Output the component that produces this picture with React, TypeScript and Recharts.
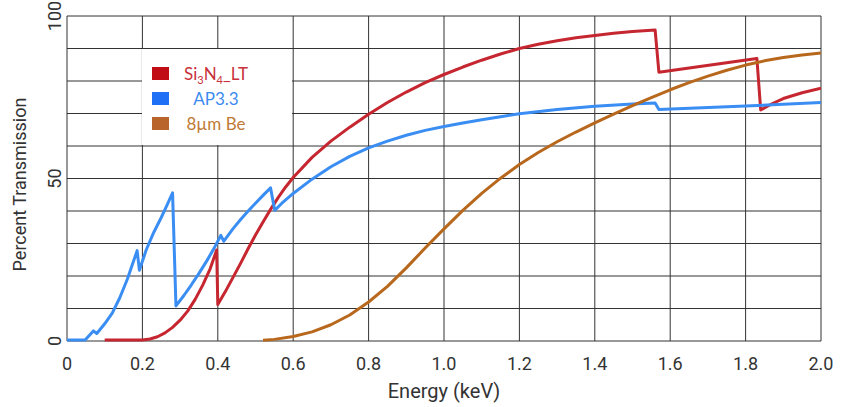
import React from "react";
import { CartesianGrid, Line, LineChart, XAxis, YAxis } from "recharts";

// energy (keV), percent transmission
const si3n4: [number, number][] = [
  [0.1, 0.3], [0.2, 0.3], [0.22, 0.6], [0.24, 1.3], [0.26, 2.5], [0.28, 4.2],
  [0.3, 6.4], [0.32, 9.2], [0.34, 12.8], [0.36, 17.2], [0.38, 22.3], [0.397, 28.0],
  [0.4, 11.2], [0.42, 15.2], [0.44, 19.5], [0.46, 23.8], [0.48, 28.3], [0.5, 32.6],
  [0.52, 36.6], [0.54, 40.5], [0.56, 44.1], [0.58, 47.4], [0.6, 50.3], [0.65, 56.5],
  [0.7, 61.5], [0.75, 65.8], [0.8, 69.8], [0.85, 73.4], [0.9, 76.6], [0.95, 79.5],
  [1.0, 82.0], [1.05, 84.3], [1.1, 86.4], [1.15, 88.3], [1.2, 90.0], [1.25, 91.3],
  [1.3, 92.4], [1.35, 93.3], [1.4, 94.0], [1.45, 94.7], [1.5, 95.2], [1.56, 95.7],
  [1.57, 82.7], [1.83, 86.9], [1.84, 71.1], [1.87, 73.0], [1.9, 74.6], [1.95, 76.4],
  [2.0, 77.8],
];

const ap33: [number, number][] = [
  [0, 0.3], [0.048, 0.3], [0.07, 3.1], [0.079, 2.3], [0.1, 5.3], [0.12, 8.6],
  [0.14, 13.3], [0.16, 19.0], [0.186, 27.8], [0.192, 21.8], [0.21, 28.0], [0.23, 33.4],
  [0.25, 38.0], [0.265, 41.7], [0.28, 45.6], [0.289, 10.8], [0.31, 14.0], [0.33, 17.3],
  [0.35, 20.8], [0.37, 24.5], [0.39, 28.5], [0.408, 32.5], [0.416, 30.7], [0.44, 34.5],
  [0.46, 37.3], [0.48, 39.9], [0.5, 42.4], [0.52, 44.8], [0.54, 47.1], [0.551, 40.2],
  [0.57, 42.4], [0.6, 45.4], [0.65, 49.8], [0.7, 53.6], [0.75, 56.8], [0.8, 59.4],
  [0.85, 61.5], [0.9, 63.3], [0.95, 64.8], [1.0, 66.0], [1.05, 67.1], [1.1, 68.1],
  [1.15, 69.0], [1.2, 69.9], [1.3, 71.2], [1.4, 72.2], [1.5, 72.9], [1.56, 73.2],
  [1.57, 71.2], [1.8, 72.3], [2.0, 73.4],
];

const be8: [number, number][] = [
  [0.52, 0.2], [0.55, 0.5], [0.6, 1.4], [0.65, 2.8], [0.7, 5.0], [0.75, 8.0],
  [0.8, 12.0], [0.85, 16.8], [0.9, 22.5], [0.95, 28.6], [1.0, 34.5], [1.05, 40.2],
  [1.1, 45.4], [1.15, 50.1], [1.2, 54.3], [1.25, 58.0], [1.3, 61.3], [1.35, 64.3],
  [1.4, 67.1], [1.45, 69.8], [1.5, 72.4], [1.55, 74.9], [1.6, 77.3], [1.65, 79.5],
  [1.7, 81.5], [1.75, 83.3], [1.8, 84.9], [1.85, 86.2], [1.9, 87.2], [1.95, 88.0],
  [2.0, 88.6],
];

const xTicks = [0, 0.2, 0.4, 0.6, 0.8, 1.0, 1.2, 1.4, 1.6, 1.8, 2.0];
const yTicks = [0, 50, 100];
const yGrid = [0, 10, 20, 30, 40, 50, 60, 70, 80, 90, 100];

const series = [
  { key: "si3n4", name: "Si3N4_LT", points: si3n4, line: "#c5262f", swatch: "#c00d16", text: "#c9303a" },
  { key: "ap33", name: "AP3.3", points: ap33, line: "#3a8ef3", swatch: "#1f70f5", text: "#3b8af0" },
  { key: "be8", name: "8µm Be", points: be8, line: "#b8681d", swatch: "#b8642a", text: "#c07a35" },
];

const toRows = (pts: [number, number][]) => pts.map(([x, y]) => ({ x, y }));

const FONT = "Roboto, sans-serif";

function legendLabel(name: string) {
  if (name === "Si3N4_LT") {
    return (
      <>
        Si<sub style={{ fontSize: 11 }}>3</sub>N<sub style={{ fontSize: 11 }}>4</sub>_LT
      </>
    );
  }
  return name;
}

// legend sits inside the plot on a white card, like the original
function LegendBox() {
  return (
    <div style={{ position: "absolute", left: 142, top: 49, width: 150, height: 96, background: "#fff" }}>
      {series.map((s, i) => (
        <div
          key={s.key}
          style={{
            position: "absolute",
            top: 18 + i * 25,
            left: 0,
            width: 150,
            height: 14,
            fontFamily: "Lato, sans-serif",
            fontSize: 17,
            lineHeight: "14px",
            color: s.text,
          }}
        >
          <span
            style={{ position: "absolute", left: 10, top: 0, width: 17, height: 13, background: s.swatch }}
          />
          <span style={{ position: "absolute", left: 34, width: 80, textAlign: "center", whiteSpace: "nowrap" }}>
            {legendLabel(s.name)}
          </span>
        </div>
      ))}
    </div>
  );
}

function YTick({ x, y, payload }: any) {
  return (
    <text
      x={x}
      y={y}
      transform={`rotate(-90 ${x} ${y})`}
      textAnchor="middle"
      fill="#333"
      fontSize={18}
      fontFamily={FONT}
    >
      {payload.value}
    </text>
  );
}

export default function App() {
  return (
    <div style={{ position: "absolute", left: 0, top: 0, width: 849, height: 407, background: "#fff" }}>
      <LineChart width={849} height={407} margin={{ top: 16, right: 28, bottom: 0, left: 0 }}>
        <CartesianGrid stroke="#333" horizontalValues={yGrid} verticalValues={xTicks} />
        <XAxis
          type="number"
          dataKey="x"
          domain={[0, 2]}
          ticks={xTicks}
          allowDataOverflow
          height={66}
          tickLine={false}
          axisLine={false}
          tickMargin={10}
          tickFormatter={(v: number) => (v === 0 ? "0" : v.toFixed(1))}
          tick={{ fill: "#333", fontSize: 18, fontFamily: FONT }}
          label={({ viewBox }: any) => (
            <text
              x={viewBox.x + viewBox.width / 2}
              y={viewBox.y + 57}
              textAnchor="middle"
              fill="#333"
              fontSize={20}
              fontFamily={FONT}
            >
              Energy (keV)
            </text>
          )}
        />
        <YAxis
          type="number"
          domain={[0, 100]}
          ticks={yTicks}
          width={67}
          tickLine={false}
          axisLine={false}
          tickSize={6}
          tickMargin={0}
          tick={<YTick />}
          label={({ viewBox }: any) => (
            <text
              x={26}
              y={viewBox.y + viewBox.height / 2 + 6}
              transform={`rotate(-90 26 ${viewBox.y + viewBox.height / 2 + 6})`}
              textAnchor="middle"
              fill="#333"
              fontSize={18}
              fontFamily={FONT}
            >
              Percent Transmission
            </text>
          )}
        />
        {series.map((s) => (
          <Line
            key={s.key}
            name={s.name}
            data={toRows(s.points)}
            dataKey="y"
            type="linear"
            stroke={s.line}
            strokeWidth={3}
            strokeLinejoin="round"
            dot={false}
            activeDot={false}
            isAnimationActive={false}
          />
        ))}
      </LineChart>
      <LegendBox />
    </div>
  );
}
